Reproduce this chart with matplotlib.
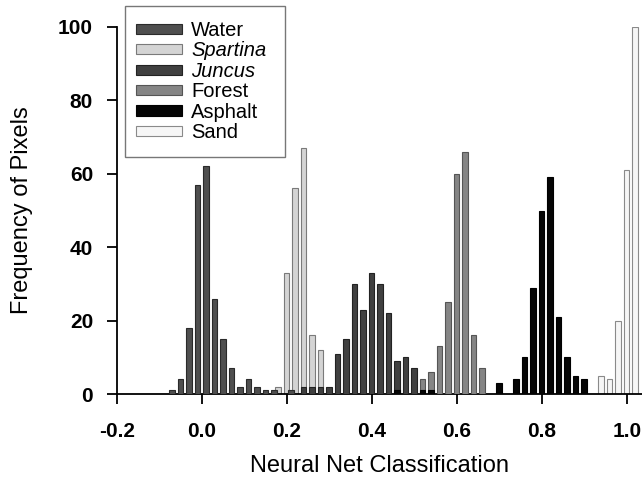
import matplotlib
matplotlib.use("Agg")
import matplotlib.pyplot as plt
from matplotlib.patches import Rectangle
import numpy as np

plt.rcParams['font.family'] = ['Liberation Sans', 'DejaVu Sans']

# histogram data (bin centre, pixel count)
water_x = [-0.07, -0.05, -0.03, -0.01, 0.01, 0.03, 0.05, 0.07, 0.09, 0.11, 0.13, 0.15, 0.17, 0.21]
water_y = [1, 4, 18, 57, 62, 26, 15, 7, 2, 4, 2, 1, 1, 1]

spartina_x = [0.18, 0.20, 0.22, 0.24, 0.26, 0.28]
spartina_y = [2, 33, 56, 67, 16, 12]

juncus_x = [0.24, 0.26, 0.28, 0.30, 0.32, 0.34, 0.36, 0.38, 0.40, 0.42, 0.44, 0.46, 0.48, 0.50]
juncus_y = [2, 2, 2, 2, 11, 15, 30, 23, 33, 30, 22, 9, 10, 7]

forest_x = [0.52, 0.54, 0.56, 0.58, 0.60, 0.62, 0.64, 0.66]
forest_y = [4, 6, 13, 25, 60, 66, 16, 7]

asphalt_x = [0.46, 0.52, 0.54, 0.70, 0.74, 0.76, 0.78, 0.80, 0.82, 0.84, 0.86, 0.88, 0.90]
asphalt_y = [1, 1, 1, 3, 4, 10, 29, 50, 59, 21, 10, 5, 4]

sand_x = [0.94, 0.96, 0.98, 1.00, 1.02]
sand_y = [5, 4, 20, 61, 100]

x_ticks = [-0.2, 0.0, 0.2, 0.4, 0.6, 0.8, 1.0]
y_ticks = [0, 20, 40, 60, 80, 100]

W, H = 642, 479
fig = plt.figure(figsize=(W / 100, H / 100), dpi=100)
ax = fig.add_axes([116.7 / W, 1 - 394 / H, 1 - 116.7 / W, (394 - 27) / H])

w = 0.013
# light bars behind, dark ones on top
h_spartina = ax.bar(spartina_x, spartina_y, width=w, color='#d4d4d4', edgecolor='#7a7a7a', linewidth=0.8, zorder=2)
h_sand = ax.bar(sand_x, sand_y, width=w, color='#f6f6f6', edgecolor='#8a8a8a', linewidth=0.8, zorder=2)
h_forest = ax.bar(forest_x, forest_y, width=w, color='#858585', edgecolor='#555555', linewidth=0.8, zorder=3)
h_water = ax.bar(water_x, water_y, width=w, color='#4f4f4f', edgecolor='#2a2a2a', linewidth=0.8, zorder=4)
h_juncus = ax.bar(juncus_x, juncus_y, width=w, color='#404040', edgecolor='#222222', linewidth=0.8, zorder=4)
h_asphalt = ax.bar(asphalt_x, asphalt_y, width=w, color='#050505', edgecolor='#000000', linewidth=0.8, zorder=5)

ax.set_xlim(-0.2, (W - 201.7) / 425)
ax.set_ylim(0, 100)
ax.set_xticks(x_ticks)
ax.set_xticklabels([f"{t:.1f}" for t in x_ticks])
ax.set_yticks(y_ticks)

for s in ['top', 'right']:
    ax.spines[s].set_visible(False)
for s in ['left', 'bottom']:
    ax.spines[s].set_linewidth(1.3)

ax.tick_params(axis='both', direction='out', length=7, width=1.3, labelsize=15)
ax.tick_params(axis='x', pad=13)
ax.tick_params(axis='y', pad=10)
for lab in ax.get_xticklabels() + ax.get_yticklabels():
    lab.set_fontweight('bold')

ax.set_xlabel('Neural Net Classification', fontsize=17, labelpad=10)
ax.set_ylabel('Frequency of Pixels', fontsize=17, labelpad=18)

# legend frame drawn separately so the padding can be set freely
frame = Rectangle((125 / W, 1 - 157 / H), 160 / W, 151 / H,
                  transform=fig.transFigure, facecolor='white',
                  edgecolor='#777777', linewidth=1.0, zorder=6, clip_on=False)
ax.add_patch(frame)

leg = ax.legend([h_water, h_spartina, h_juncus, h_forest, h_asphalt, h_sand],
                ['Water', 'Spartina', 'Juncus', 'Forest', 'Asphalt', 'Sand'],
                loc='upper left', bbox_to_anchor=(136 / W, 1 - 21 / H),
                bbox_transform=fig.transFigure, borderaxespad=0, borderpad=0,
                fontsize=14.5, frameon=False,
                handlelength=2.3, handleheight=0.4, handletextpad=0.45,
                labelspacing=0.07)
leg.set_zorder(7)
leg.texts[1].set_style('italic')
leg.texts[2].set_style('italic')

plt.savefig('out.png', dpi=100)
